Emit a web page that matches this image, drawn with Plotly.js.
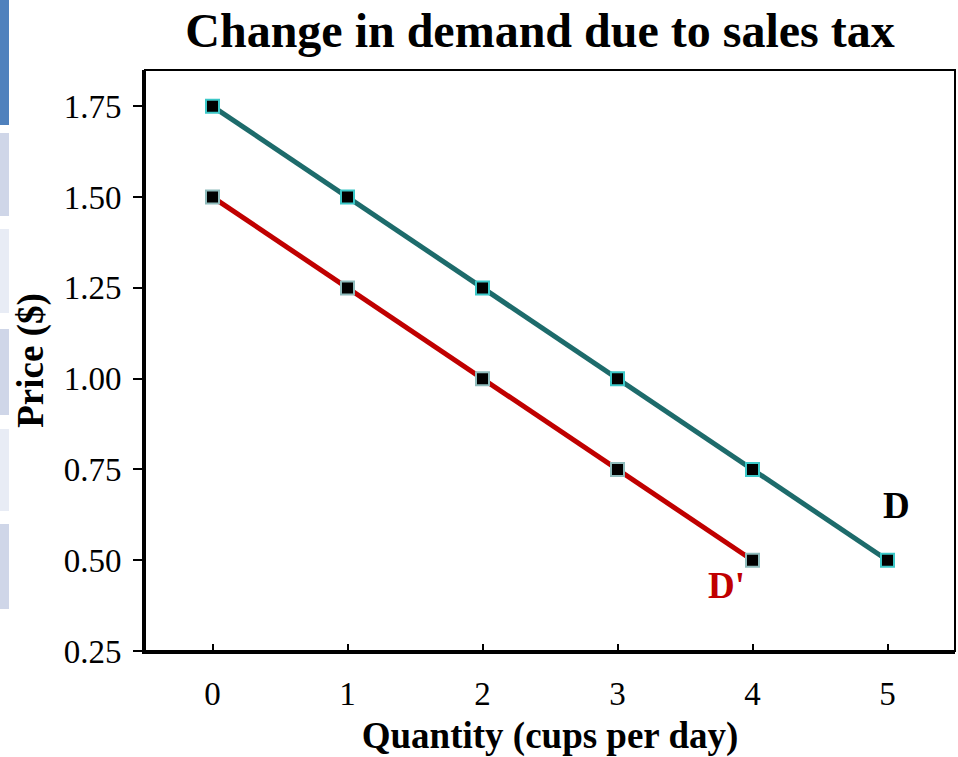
<!DOCTYPE html>
<html>
<head>
<meta charset="utf-8">
<script src="https://cdn.plot.ly/plotly-3.0.1.min.js"></script>
<style>html,body{margin:0;padding:0;background:#fff;}#chart{width:958px;height:757px;}</style>
</head>
<body>
<div id="chart"></div>
<script>
const quantityD = [0, 1, 2, 3, 4, 5];
const priceD = [1.75, 1.50, 1.25, 1.00, 0.75, 0.50];
const quantityDp = [0, 1, 2, 3, 4];
const priceDp = [1.50, 1.25, 1.00, 0.75, 0.50];
const xTicks = [0, 1, 2, 3, 4, 5];
const yTicks = [0.25, 0.50, 0.75, 1.00, 1.25, 1.50, 1.75];
const yTickLabels = ['0.25', '0.50', '0.75', '1.00', '1.25', '1.50', '1.75'];

const W = 958, H = 757, L = 145, R = 3, T = 70, B = 106;
const pw = W - L - R, ph = H - T - B;
const px = x => (x - L) / pw;
const py = y => (H - B - y) / ph;

function strip(y0, y1, color) {
  return {type: 'rect', xref: 'paper', yref: 'paper', x0: px(0), x1: px(9), y0: py(y1), y1: py(y0),
          fillcolor: color, line: {width: 0}, layer: 'below'};
}

const traces = [
  {x: quantityD, y: priceD, mode: 'lines+markers', name: 'D',
   line: {color: '#1d6b6b', width: 5},
   marker: {symbol: 'square', size: 13, color: '#000', line: {color: '#3cc8c8', width: 2}}},
  {x: quantityDp, y: priceDp, mode: 'lines+markers', name: "D'",
   line: {color: '#c00000', width: 5},
   marker: {symbol: 'square', size: 13, color: '#000', line: {color: '#8fbcbc', width: 2}}}
];

const font = 'Liberation Serif, Times New Roman, serif';
const layout = {
  width: W, height: H,
  margin: {l: L, r: R, t: T, b: B},
  paper_bgcolor: '#fff', plot_bgcolor: '#fff',
  showlegend: false,
  title: {text: '<b>Change in demand due to sales tax</b>', font: {family: font, size: 48, color: '#000'},
          x: 540 / W, xanchor: 'center', y: 1 - 30 / H, yanchor: 'middle'},
  xaxis: {range: [-0.5, 5.5], tickvals: xTicks, ticks: 'inside', ticklen: 7, tickwidth: 2, tickcolor: '#000',
          showline: true, linecolor: '#000', linewidth: 3, showgrid: false, zeroline: false,
          tickfont: {family: font, size: 33, color: '#000'}, ticklabelstandoff: 11,
          title: {text: '<b>Quantity (cups per day)</b>', font: {family: font, size: 37, color: '#000'}, standoff: 12}},
  yaxis: {range: [0.25, 1.85], tickvals: yTicks, ticktext: yTickLabels, ticks: 'outside', ticklen: 9, tickwidth: 2, tickcolor: '#000',
          showline: true, linecolor: '#000', linewidth: 3, showgrid: false, zeroline: false,
          tickfont: {family: font, size: 33, color: '#000'}, ticklabelstandoff: 5,
          title: {text: '<b>Price ($)</b>', font: {family: font, size: 37, color: '#000'}, standoff: 9}},
  shapes: [
    strip(0, 125, '#4f81bd'),
    strip(133, 216, '#cfd6e8'),
    strip(229, 313, '#e8ecf5'),
    strip(329, 415, '#cfd6e8'),
    strip(429, 511, '#e8ecf5'),
    strip(524, 609, '#cfd6e8'),
    {type: 'rect', xref: 'paper', yref: 'paper', x0: 0, x1: 1, y0: 0, y1: 1, line: {color: '#000', width: 2}}
  ],
  annotations: [
    {x: 5.07, y: 0.652, xref: 'x', yref: 'y', text: '<b>D</b>', showarrow: false,
     font: {family: font, size: 37, color: '#000'}},
    {x: 3.81, y: 0.431, xref: 'x', yref: 'y', text: "<b>D'</b>", showarrow: false,
     font: {family: font, size: 37, color: '#c00000'}}
  ]
};
Plotly.newPlot('chart', traces, layout, {displayModeBar: false, staticPlot: true});
</script>
</body>
</html>
